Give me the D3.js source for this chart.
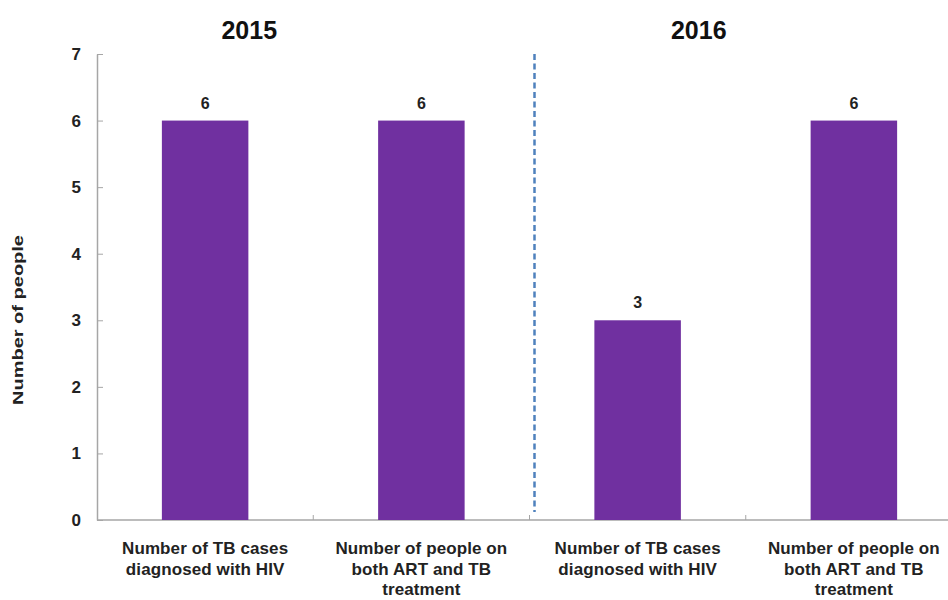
<!DOCTYPE html>
<html>
<head>
<meta charset="utf-8">
<script src="https://cdn.jsdelivr.net/npm/d3@7"></script>
<style>
  html, body { margin: 0; padding: 0; background: #fff; }
  svg text { font-family: "Liberation Sans", Arial, sans-serif; }
</style>
</head>
<body>
<svg id="chart" width="948" height="600"></svg>
<script>
const categories = ["2015a", "2015b", "2016a", "2016b"];
const categoryLabels = [
  ["Number of TB cases", "diagnosed with HIV"],
  ["Number of people on", "both ART and TB", "treatment"],
  ["Number of TB cases", "diagnosed with HIV"],
  ["Number of people on", "both ART and TB", "treatment"]
];
const values = [6, 6, 3, 6];
const groupTitles = ["2015", "2016"];
const yTicks = [0, 1, 2, 3, 4, 5, 6, 7];
const yAxisTitle = "Number of people";

const svg = d3.select("#chart");
const x0 = 97, x1 = 962, yBottom = 520, yTop = 54;

const x = d3.scaleBand().domain(categories).range([x0, x1]).paddingInner(0.6).paddingOuter(0.3);
const y = d3.scaleLinear().domain([0, 7]).range([yBottom, yTop]);
const step = x.step();
const gap = (step - x.bandwidth()) / 2;

// Y axis
const yAxis = d3.axisLeft(y).tickValues(yTicks).tickFormat(d3.format("d"))
  .tickSizeInner(-6).tickSizeOuter(0).tickPadding(16);
const gy = svg.append("g").attr("transform", `translate(${x0},0)`).call(yAxis);
gy.select(".domain").attr("stroke", "#a6a6a6").attr("stroke-width", 1.5);
gy.selectAll(".tick line").attr("stroke", "#a6a6a6");
gy.selectAll(".tick text").attr("font-size", 17).attr("font-weight", "bold").attr("fill", "#222")
  .attr("font-family", "Liberation Sans, Arial, sans-serif");

// X axis
svg.append("line").attr("x1", x0).attr("x2", x1).attr("y1", yBottom).attr("y2", yBottom)
  .attr("stroke", "#a6a6a6").attr("stroke-width", 1.5);
svg.selectAll(".xtick").data(categories.slice(1)).join("line")
  .attr("x1", d => x(d) - gap)
  .attr("x2", d => x(d) - gap)
  .attr("y1", yBottom).attr("y2", yBottom - 5)
  .attr("stroke", "#a6a6a6");

// Bars
svg.selectAll(".bar").data(values).join("rect")
  .attr("x", (d, i) => x(categories[i]))
  .attr("width", x.bandwidth())
  .attr("y", d => y(d))
  .attr("height", d => y(0) - y(d))
  .attr("fill", "#7030a0");

// Value labels
svg.selectAll(".val").data(values).join("text")
  .attr("x", (d, i) => x(categories[i]) + x.bandwidth() / 2)
  .attr("y", d => y(d) - 12)
  .attr("text-anchor", "middle")
  .attr("font-size", 16).attr("font-weight", "bold").attr("fill", "#222")
  .text(d => d);

// Category labels
categories.forEach((c, i) => {
  const cx = x(c) + x.bandwidth() / 2;
  const t = svg.append("text")
    .attr("x", cx)
    .attr("y", 554)
    .attr("text-anchor", "middle")
    .attr("font-size", 17).attr("font-weight", "bold").attr("fill", "#222")
    .attr("letter-spacing", "0.1");
  categoryLabels[i].forEach((line, j) => {
    t.append("tspan").attr("x", cx).attr("dy", j === 0 ? 0 : 20.5).text(line);
  });
});

// Divider (dashed)
const divX = x(categories[2]) - gap + 5;
svg.append("line").attr("x1", divX).attr("x2", divX).attr("y1", y(7)).attr("y2", yBottom - 8)
  .attr("stroke", "#4f81bd").attr("stroke-width", 2.5).attr("stroke-dasharray", "6,3.5");

// Group titles
const titleX = [(x(categories[0]) + x(categories[1]) + x.bandwidth()) / 2 - 64,
                (x(categories[2]) + x(categories[3]) + x.bandwidth()) / 2 - 47];
svg.selectAll(".gt").data(groupTitles).join("text")
  .attr("x", (d, i) => titleX[i])
  .attr("y", 39)
  .attr("text-anchor", "middle")
  .attr("font-size", 25).attr("font-weight", "bold").attr("fill", "#111")
  .text(d => d);

// Y axis title
svg.append("text")
  .attr("transform", `translate(23,320) rotate(-90)`)
  .attr("text-anchor", "middle")
  .attr("font-size", 15).attr("font-weight", "bold").attr("fill", "#222")
  .attr("textLength", 170).attr("lengthAdjust", "spacingAndGlyphs")
  .text(yAxisTitle);
</script>
</body>
</html>
